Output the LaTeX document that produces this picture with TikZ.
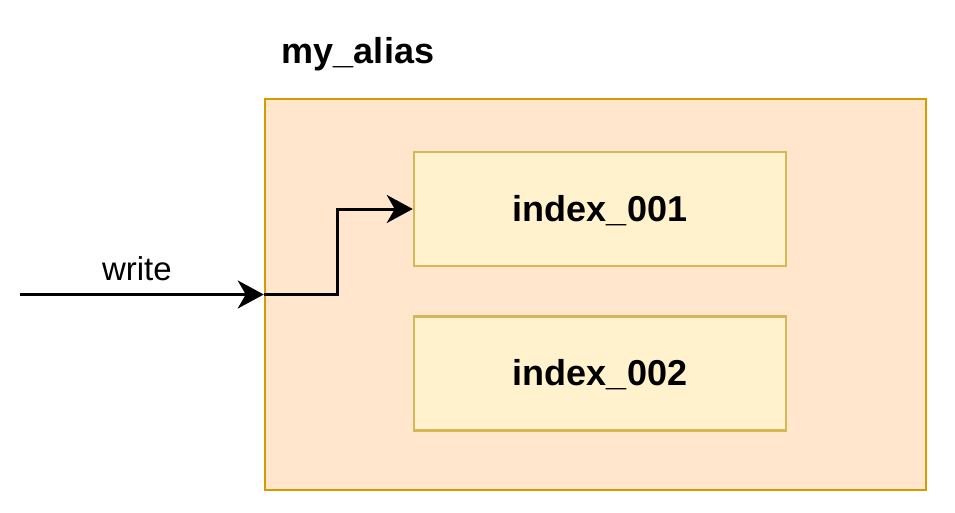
\documentclass[tikz,border=0pt]{standalone}
\usepackage{fontspec}
\setmainfont{Liberation Sans}
\usetikzlibrary{arrows.meta, positioning}
\definecolor{aliasfill}{HTML}{FFE6CC}
\definecolor{aliasdraw}{HTML}{D79B00}
\definecolor{idxfill}{HTML}{FFF2CC}
\definecolor{idxdraw}{HTML}{D6B656}

\begin{document}
\begin{tikzpicture}[x=1pt, y=-1pt,
	aliasbox/.style={draw=aliasdraw, fill=aliasfill, line width=2.5pt, minimum width=661pt, minimum height=391pt},
	idxbox/.style={draw=idxdraw, fill=idxfill, line width=2.5pt, minimum width=372pt, minimum height=114pt, text depth=2pt, font=\fontsize{36}{40}\selectfont\bfseries},
	flow/.style={line width=3pt, -{Stealth[length=26pt, width=28pt, inset=8pt]}}]
\useasboundingbox (0,0) rectangle (955,513);
\node[aliasbox] (alias) at (595.5, 294.5) {};
\node[font=\fontsize{36}{40}\selectfont\bfseries, anchor=base] (aliaslabel) at (358, 64) {my\_alias};
\node[idxbox] (idx1) at (600, 209) {index\_001};
\node[idxbox] (idx2) at (600, 373.5) {index\_002};
\coordinate (src) at (20, 294.5);
\coordinate (bend) at (337, 294.5);

\draw[flow] (src) -- node[above=9pt, xshift=-5pt, font=\fontsize{33}{36}\selectfont] (writelabel) {write} (alias.west);
\draw[flow] (alias.west) -- (bend) |- (idx1.west);
\end{tikzpicture}
\end{document}
